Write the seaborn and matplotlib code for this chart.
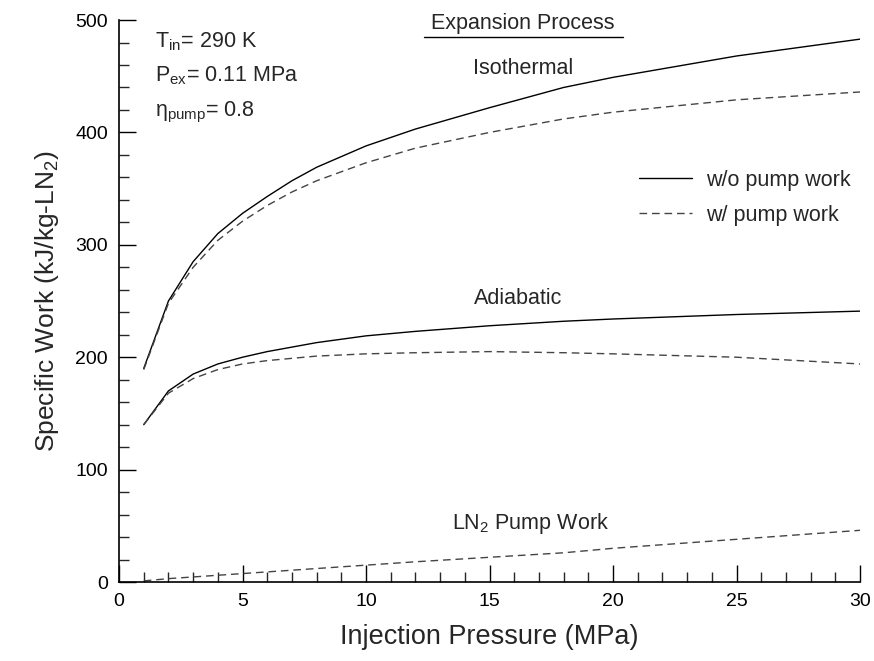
import matplotlib
matplotlib.use("Agg")
import matplotlib.pyplot as plt
from matplotlib.ticker import MultipleLocator
from matplotlib.lines import Line2D
import seaborn as sns

pressure = [1, 2, 3, 4, 5, 6, 7, 8, 10, 12, 15, 18, 20, 25, 30]
iso_wo = [190, 250, 285, 310, 328, 343, 357, 369, 388, 403, 422, 440, 449, 468, 483]
iso_w = [189, 248, 280, 304, 321, 335, 347, 357, 373, 386, 400, 412, 418, 429, 436]
adi_wo = [140, 170, 185, 194, 200, 205, 209, 213, 219, 223, 228, 232, 234, 238, 241]
adi_w = [140, 168, 181, 189, 194, 197, 199, 201, 203, 204, 205, 204, 203, 200, 194]
pump_work = [1, 3, 4.5, 6, 7.5, 9, 10.5, 12, 15, 18, 22, 26, 30, 38, 46]

sns.set_theme(style="ticks")
plt.rcParams['font.family'] = ['Liberation Sans', 'DejaVu Sans']
plt.rcParams['mathtext.fontset'] = 'custom'
plt.rcParams['mathtext.rm'] = 'Liberation Sans'
plt.rcParams['mathtext.it'] = 'Liberation Sans'

fig = plt.figure(figsize=(8.74, 6.61), dpi=100)
ax = fig.add_axes([0.1362, 0.1195, 0.8478, 0.8502])

solid = dict(color="black", linewidth=1.0, linestyle="-")
dashed = dict(color="#444444", linewidth=1.0, linestyle=(0, (5.5, 3.5)))

sns.lineplot(x=pressure, y=iso_wo, ax=ax, **solid)
sns.lineplot(x=pressure, y=iso_w, ax=ax, **dashed)
sns.lineplot(x=pressure, y=adi_wo, ax=ax, **solid)
sns.lineplot(x=pressure, y=adi_w, ax=ax, **dashed)
sns.lineplot(x=pressure, y=pump_work, ax=ax, **dashed)

ax.set_xlim(0, 30)
ax.set_ylim(0, 500)
ax.xaxis.set_major_locator(MultipleLocator(5))
ax.xaxis.set_minor_locator(MultipleLocator(1))
ax.yaxis.set_major_locator(MultipleLocator(100))
ax.yaxis.set_minor_locator(MultipleLocator(20))
ax.tick_params(which="major", direction="in", length=12, width=1, labelsize=14, colors="black", pad=8)
ax.tick_params(which="minor", direction="in", length=7, width=1)
sns.despine(ax=ax)
for s in ["left", "bottom"]:
    ax.spines[s].set_color("black")
    ax.spines[s].set_linewidth(1.2)

ax.set_xlabel("Injection Pressure (MPa)", fontsize=19.5, labelpad=10)
ax.set_ylabel(r"Specific Work (kJ/kg-LN$_2$)", fontsize=19, labelpad=10)

fs = 15.5
ax.text(1.45, 476, r"T$_{\rm in}$= 290 K", fontsize=fs, va="baseline")
ax.text(1.45, 445, r"P$_{\rm ex}$= 0.11 MPa", fontsize=fs, va="baseline")
ax.text(1.45, 414, r"η$_{\rm pump}$= 0.8", fontsize=fs, va="baseline")

fs2 = 15.5
ax.text(16.35, 497, "Expansion Process", fontsize=fs2, ha="center", va="center")
ax.plot([12.35, 20.4], [485, 485], color="black", linewidth=1.0, clip_on=False)
ax.text(16.35, 457, "Isothermal", fontsize=fs2, ha="center", va="center")
ax.text(16.15, 252, "Adiabatic", fontsize=fs2, ha="center", va="center")
ax.text(16.65, 52, r"LN$_2$ Pump Work", fontsize=fs2, ha="center", va="center")

handles = [Line2D([], [], **solid), Line2D([], [], **dashed)]
ax.legend(handles, ["w/o pump work", "w/ pump work"], frameon=False, fontsize=fs2,
          loc="upper left", bbox_to_anchor=(0.675, 0.768), handlelength=2.5,
          handletextpad=0.65, labelspacing=0.65)

fig.savefig("out.png", dpi=100)
